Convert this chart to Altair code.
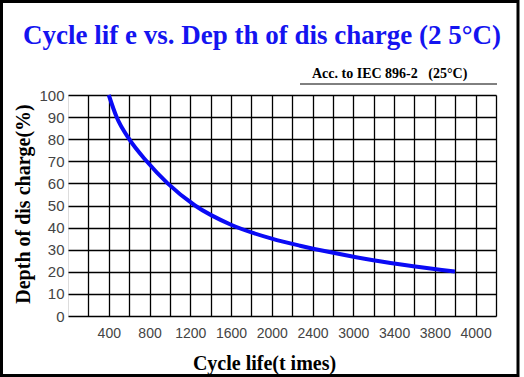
import altair as alt
import pandas as pd
import json

# ---- data ----
cycles = [400, 477, 601, 772, 978, 1246, 1600, 2000, 2277, 2603, 2996, 3388, 3797]
depth = [100, 90, 80, 70, 60, 50, 41.3, 35.0, 31.8, 28.6, 25.2, 22.5, 20.1]

grid_x = list(range(200, 4201, 200))
tick_pos = [400, 800, 1200, 1600, 2000, 2400, 2800, 3200, 3600, 4000]
tick_labels = ["400", "800", "1200", "1600", "2000", "2400", "3000", "3400", "3800", "4000"]
y_ticks = list(range(0, 101, 10))

title_text = "Cycle lif e vs. Dep th of dis charge (2 5°C)"
subtitle_text = "Acc. to IEC 896-2\u00a0\u00a0\u00a0(25°C)"
x_title = "Cycle life(t imes)"
y_title = "Depth of dis charge(%)"

df = pd.DataFrame({"cycles": cycles, "depth": depth})

pos_js = json.dumps(tick_pos)
lab_js = json.dumps(tick_labels)
label_expr = f"indexof({pos_js}, datum.value) >= 0 ? {lab_js}[indexof({pos_js}, datum.value)] : ''"

W, H = 428, 221
LEFT, TOP = 68, 95

serif = "Liberation Serif"
narrow = "Liberation Sans Narrow, Liberation Sans, sans-serif"

line = alt.Chart(df).mark_line(color="#0a0af5", strokeWidth=4, interpolate="monotone").encode(
    x=alt.X("cycles:Q",
            scale=alt.Scale(domain=[0, 4200], nice=False),
            axis=alt.Axis(values=grid_x, labelExpr=label_expr, ticks=False, domain=False,
                          grid=True, gridColor="black", gridWidth=1.3, gridOpacity=1,
                          labelFont=narrow, labelFontSize=14, labelColor="#444",
                          labelPadding=10, labelAngle=0,
                          title=x_title, titleFont=serif, titleFontSize=20,
                          titleFontWeight="bold", titleColor="black",
                          titleX=196, titleY=53, titleBaseline="alphabetic")),
    y=alt.Y("depth:Q",
            scale=alt.Scale(domain=[0, 100], nice=False),
            axis=alt.Axis(values=y_ticks, ticks=False, domain=False,
                          grid=True, gridColor="black", gridWidth=1.3, gridOpacity=1,
                          labelFont=narrow, labelFontSize=15, labelColor="#444",
                          labelPadding=4,
                          title=y_title, titleFont=serif, titleFontSize=20,
                          titleFontWeight="bold", titleColor="black",
                          titleX=-39, titleY=H / 2 - 2, titleBaseline="alphabetic")),
)

one = pd.DataFrame({"t": [subtitle_text]})
sub = alt.Chart(one).mark_text(align="left", baseline="middle", font=serif, fontSize=14,
                               fontWeight="bold", color="black").encode(
    x=alt.value(244), y=alt.value(-21), text="t:N")

ttl = alt.Chart(pd.DataFrame({"t": [title_text]})).mark_text(
    align="center", baseline="alphabetic", font=serif, fontSize=27, fontWeight="bold",
    color="#1414f0").encode(x=alt.value(194), y=alt.value(-51), text="t:N")

underline = alt.Chart(pd.DataFrame({"a": [0]})).mark_rule(color="black", strokeWidth=1).encode(
    x=alt.value(232), x2=alt.value(429), y=alt.value(-11))

frame = alt.Chart(pd.DataFrame({"a": [0]})).mark_rect(filled=False, stroke="black", strokeWidth=3).encode(
    x=alt.value(1.5 - LEFT), x2=alt.value(518 - LEFT), y=alt.value(1.5 - TOP), y2=alt.value(375.5 - TOP))

chart = alt.layer(line, sub, ttl, underline, frame).properties(
    width=W, height=H,
    autosize=alt.AutoSizeParams(type="none"),
    padding={"left": LEFT, "top": TOP, "right": 524 - LEFT - W, "bottom": 377 - TOP - H},
).configure_view(stroke="black", strokeWidth=1.5).configure(background="white")

chart.save("out.html", embed_options={"renderer": "svg", "actions": False})
